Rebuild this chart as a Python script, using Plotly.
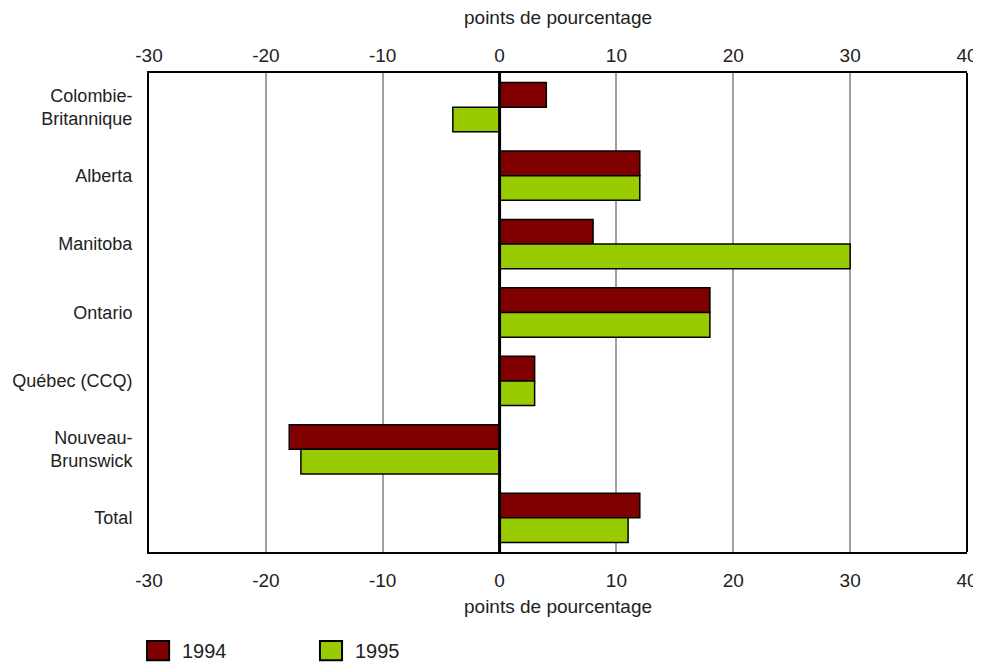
import plotly.graph_objects as go

# catégories, de haut en bas
provinces = ["Colombie-<br>Britannique", "Alberta", "Manitoba", "Ontario",
             "Québec (CCQ)", "Nouveau-<br>Brunswick", "Total"]
val_1994 = [4, 12, 8, 18, 3, -18, 12]
val_1995 = [-4, 12, 30, 18, 3, -17, 11]
x_ticks = [-30, -20, -10, 0, 10, 20, 30, 40]
x_ticktext = [str(v) for v in x_ticks]  # trait d'union plutôt que le signe moins
series_names = ["1994", "1995"]
series_colors = ["#800000", "#99cc00"]

FONT = "Liberation Sans, Arial, sans-serif"
FS = 19
TXT = "#222222"

fig = go.Figure()
for name, vals, col in zip(series_names, [val_1994, val_1995], series_colors):
    fig.add_trace(go.Bar(
        y=provinces, x=vals, orientation="h", name=name, showlegend=False,
        marker=dict(color=col, line=dict(color="black", width=1.5)),
    ))

# trace invisible pour activer l'axe du haut
fig.add_trace(go.Scatter(x=[0], y=[provinces[0]], xaxis="x2", mode="markers",
                         marker=dict(opacity=0), showlegend=False, hoverinfo="skip"))

axis_common = dict(
    range=[-30, 40], tickvals=x_ticks, ticktext=x_ticktext,
    showgrid=True, gridcolor="#a0a0a0", gridwidth=1.5, zeroline=False,
    ticks="", showline=True, linecolor="black", linewidth=2,
    tickfont=dict(size=FS, color=TXT), automargin=False,
    ticklabeloverflow="allow",
)

# la page ajoute 8 px de marge au body : marges décalées en conséquence
fig.update_layout(
    width=981, height=662,
    margin=dict(l=141, r=22, t=65, b=118),
    plot_bgcolor="white", paper_bgcolor="white",
    font=dict(family=FONT, size=FS, color=TXT),
    barmode="group", bargap=0.28, bargroupgap=0,
    xaxis=dict(side="bottom", ticklabelstandoff=10, **axis_common),
    xaxis2=dict(side="top", overlaying="x", anchor="y", matches="x",
                ticklabelstandoff=1, **axis_common),
    yaxis=dict(autorange="reversed", showline=True, linecolor="black", linewidth=2,
               ticks="", ticklabelstandoff=11, automargin=False,
               tickfont=dict(size=18, color=TXT)),
    showlegend=False,
)

# titres des axes
for ypos in [1.115, -0.113]:
    fig.add_annotation(text="points de pourcentage", xref="paper", yref="paper",
                       x=0.5, y=ypos, xanchor="center", yanchor="middle",
                       showarrow=False, font=dict(size=FS, color=TXT))

# ligne verticale du zéro
fig.add_shape(type="line", xref="x", yref="paper", x0=0, x1=0, y0=0, y1=1,
              line=dict(color="black", width=3))
# bord droit du cadre
fig.add_shape(type="line", xref="paper", yref="paper", x0=1, x1=1, y0=0, y1=1,
              line=dict(color="black", width=2))

# légende en bas à gauche
legend_x = [-0.0024, 0.209]
for lx, name, col in zip(legend_x, series_names, series_colors):
    fig.add_shape(type="rect", xref="paper", yref="paper",
                  x0=lx, x1=lx + 0.027, y0=-0.186, y1=-0.226,
                  fillcolor=col, line=dict(color="black", width=2))
    fig.add_annotation(text=name, xref="paper", yref="paper",
                       x=lx + 0.04, y=-0.206, xanchor="left", yanchor="middle",
                       showarrow=False, font=dict(size=FS + 1, color=TXT))

fig.write_html("out.html")
